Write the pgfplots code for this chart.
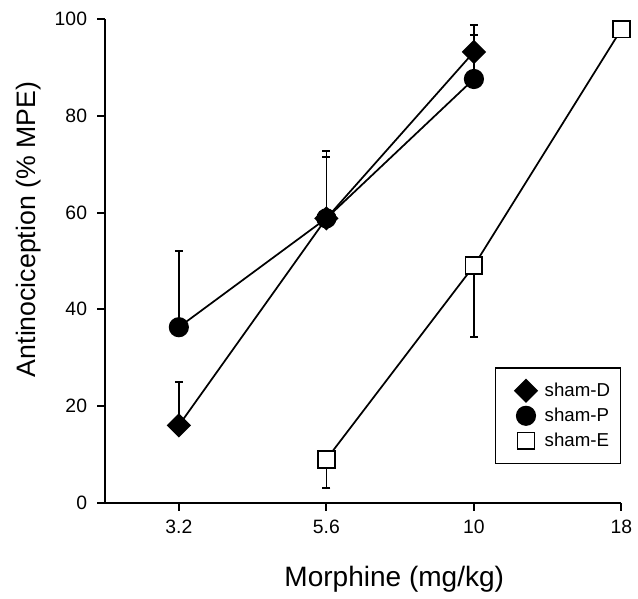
\documentclass[border=0pt]{standalone}
\usepackage{pgfplots}
\pgfplotsset{compat=1.18}
\usepackage{fontspec}
\setmainfont{Liberation Sans}
\begin{document}
\begin{tikzpicture}
\begin{axis}[
  scale only axis, width=387pt, height=362.6pt,
  xmin=-0.5, xmax=3, ymin=0, ymax=100,
  axis x line*=bottom, axis y line*=left,
  axis line style={line width=1.6pt},
  xtick={0,1,2,3}, xticklabels={3.2,5.6,10,18},
  ytick={0,20,...,100},
  tick align=outside, major tick length=6pt,
  tick style={line width=1.5pt, black},
  ticklabel style={font=\fontsize{14.5}{16}\selectfont},
  xticklabel style={yshift=-3.5pt},
  yticklabel style={xshift=-4pt},
  /pgf/number format/assume math mode=true,
  xlabel={Morphine (mg/kg)}, ylabel={Antinociception (\% MPE)},
  xlabel style={font=\fontsize{21}{24}\selectfont, at={(rel axis cs:0.56,-0.157)}, anchor=center},
  ylabel style={font=\fontsize{20}{24}\selectfont, at={(rel axis cs:-0.149,0.565)}, anchor=center},
  clip=false,
  legend cell align=left,
  legend style={at={(rel axis cs:1,0.28)}, anchor=north east, draw=black, line width=1.1pt,
    font=\fontsize{14}{16}\selectfont, inner xsep=6pt, inner ysep=8pt,
    /tikz/every even column/.append style={column sep=5pt}, row sep=0.75pt},
  legend image code/.code={\path[draw=none,fill=none] (-17pt,-9pt) rectangle (12pt,9pt); \draw[#1, only marks] plot coordinates {(0pt,0pt)};},
]
\addplot[black, line width=1.3pt, mark=square*, mark size=5.8pt, mark options={rotate=45, fill=black, solid},
  error bars/.cd, y dir=plus, y explicit, error bar style={line width=1.2pt, black}, error mark options={rotate=90, black, line width=1.2pt, mark size=3pt}]
  coordinates {(0,16) +- (0,9) (1,58.8) +- (0,13.9) (2,93.2) +- (0,5.5)};
\addlegendentry{sham-D}
\addplot[black, line width=1.3pt, mark=*, mark size=6.9pt, mark options={fill=black, solid},
  error bars/.cd, y dir=plus, y explicit, error bar style={line width=1.2pt, black}, error mark options={rotate=90, black, line width=1.2pt, mark size=3pt}]
  coordinates {(0,36.3) +- (0,15.7) (1,58.8) +- (0,12.7) (2,87.6) +- (0,9.1)};
\addlegendentry{sham-P}
\addplot[black, line width=1.3pt, mark=square*, mark size=6.3pt, mark options={fill=white, solid},
  error bars/.cd, y dir=minus, y explicit, error bar style={line width=1.2pt, black}, error mark options={rotate=90, black, line width=1.2pt, mark size=3pt}]
  coordinates {(1,9.0) +- (0,5.9) (2,49.0) +- (0,14.7) (3,97.9) +- (0,0)};
\addlegendentry{sham-E}
\end{axis}
\pgfresetboundingbox
\path (-78.75pt,-71.6pt) rectangle (399.4pt,376.85pt);
\end{tikzpicture}
\end{document}
